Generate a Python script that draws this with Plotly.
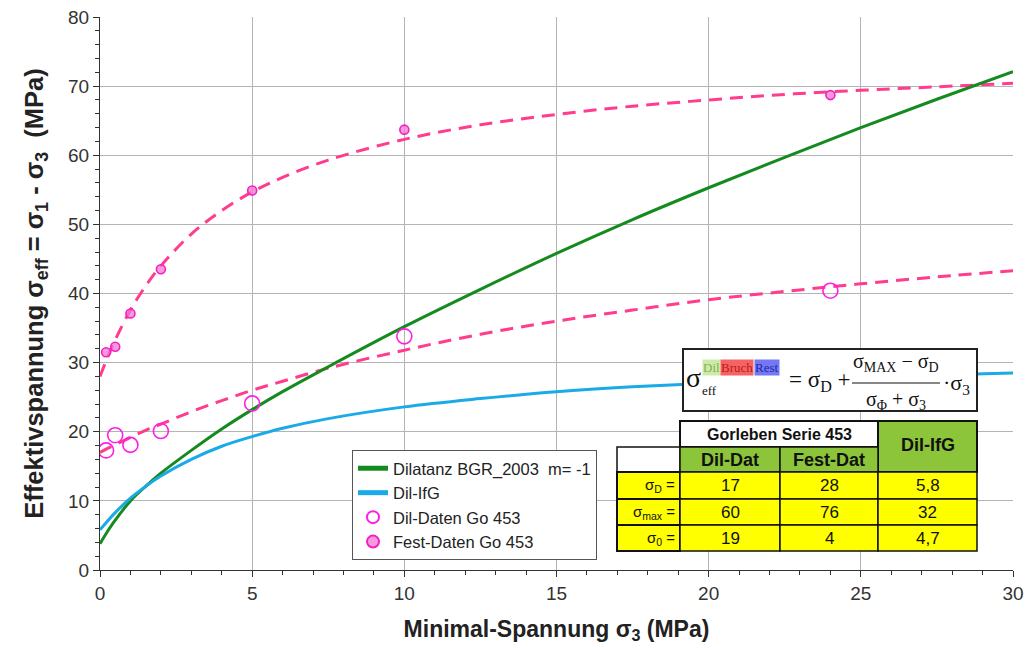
import plotly.graph_objects as go

# ---- measured strengths (Gorleben, series 453) ----
sigma3_pts = [0.2, 0.5, 1, 2, 5, 10, 24]
dil_daten = [17.3, 19.5, 18.1, 20.1, 24.1, 33.8, 40.4]
fest_daten = [31.5, 32.3, 37.1, 43.5, 54.9, 63.7, 68.7]

# ---- curves, sampled along sigma_3 ----
sigma3_curve = [0, 0.25, 0.5, 1, 1.5, 2, 3, 4, 5, 6, 7.5, 10, 12.5, 15,
                17.5, 20, 22.5, 25, 27.5, 30]
bgr_2003 = [3.8, 5.6, 7.2, 10.0, 12.1, 14.0, 17.3, 20.4, 23.2, 25.8, 29.4,
            35.2, 40.6, 45.8, 50.7, 55.3, 59.7, 64.0, 68.1, 72.1]
dil_ifg = [5.8, 7.1, 8.3, 10.4, 12.1, 13.6, 16.0, 17.9, 19.3, 20.5, 21.9,
           23.6, 24.8, 25.8, 26.5, 27.0, 27.5, 27.9, 28.2, 28.5]
dil_fit = [17.0, 17.6, 18.1, 19.2, 20.2, 21.1, 22.9, 24.5, 26.0, 27.3, 29.2,
           31.8, 34.1, 36.0, 37.6, 39.1, 40.3, 41.4, 42.4, 43.3]
fest_fit = [28.0, 30.8, 33.3, 37.6, 41.1, 44.0, 48.6, 52.0, 54.7, 56.8, 59.3,
            62.3, 64.4, 65.9, 67.1, 68.0, 68.8, 69.4, 69.9, 70.4]

# ---- parameter table ----
table_group = "Gorleben Serie 453"
table_cols = ["Dil-Dat", "Fest-Dat", "Dil-IfG"]
table_rows = ["σ<sub>D</sub> =", "σ<sub>max</sub> =", "σ<sub>0</sub> ="]
table_vals = [["17", "28", "5,8"],
              ["60", "76", "32"],
              ["19", "4", "4,7"]]

W, H = 1028, 648
PL, PR, PT, PB = 100, 1013, 17, 570


def fx(p):
    return (p - PL) / (PR - PL)


def fy(p):
    return (PB - p) / (PB - PT)


SANS = "Liberation Sans, Arial, sans-serif"
SERIF = "Liberation Serif, Times New Roman, serif"
PINK = "#FF3C8E"
MAGENTA = "#FF1EE6"

fig = go.Figure()

fig.add_trace(go.Scatter(x=sigma3_curve, y=fest_fit, mode="lines",
                         line=dict(color=PINK, width=3, dash="13px,8px",
                                   shape="spline"),
                         showlegend=False, hoverinfo="skip"))
fig.add_trace(go.Scatter(x=sigma3_curve, y=dil_fit, mode="lines",
                         line=dict(color=PINK, width=3, dash="13px,8px",
                                   shape="spline"),
                         showlegend=False, hoverinfo="skip"))
fig.add_trace(go.Scatter(x=sigma3_curve, y=bgr_2003, mode="lines",
                         name="Dilatanz BGR_2003  m= -1", legendgroup="a",
                         line=dict(color="#158A1E", width=3, shape="spline")))
fig.add_trace(go.Scatter(x=sigma3_curve, y=dil_ifg, mode="lines",
                         name="Dil-IfG", legendgroup="b",
                         line=dict(color="#1AAAE8", width=3, shape="spline")))
fig.add_trace(go.Scatter(x=sigma3_pts, y=dil_daten, mode="markers",
                         name="Dil-Daten Go 453", legendgroup="c",
                         marker=dict(symbol="circle-open", size=15,
                                     color=MAGENTA, line=dict(width=1.6))))
fig.add_trace(go.Scatter(x=sigma3_pts, y=fest_daten, mode="markers",
                         name="Fest-Daten Go 453", legendgroup="d",
                         marker=dict(symbol="circle", size=9,
                                     color="rgba(245,120,205,0.75)",
                                     line=dict(color="#F020C8", width=1.6))))

shapes = []
ann = []

# ---- formula box ----
shapes.append(dict(type="rect", xref="paper", yref="paper",
                   x0=fx(683), x1=fx(977), y0=fy(411), y1=fy(349),
                   line=dict(color="#222", width=2), fillcolor="white"))
shapes.append(dict(type="line", xref="paper", yref="paper",
                   x0=fx(852), x1=fx(940), y0=fy(383), y1=fy(383),
                   line=dict(color="#111", width=1.2)))


def txt(x, y, text, size, family=SERIF, color="#111", xanchor="center",
        bg=None, pad=1):
    d = dict(x=fx(x), y=fy(y), xref="paper", yref="paper", text=text,
             showarrow=False, xanchor=xanchor, yanchor="middle",
             font=dict(family=family, size=size, color=color))
    if bg:
        d.update(bgcolor=bg, borderpad=pad)
    ann.append(d)


txt(693, 377, "σ", 28)
txt(700, 391, "eff", 13, xanchor="left")
txt(702, 367, "Dil", 13, color="#86AE58", bg="#CDEBA8", pad=0, xanchor="left")
txt(720, 367, "Bruch", 13, color="#C01818", bg="#F46464", pad=0, xanchor="left")
txt(754, 367, "Rest", 13, color="#1E2AA8", bg="#7478F2", pad=0, xanchor="left")
txt(787, 381, "= σ<sub>D</sub> +", 23, xanchor="left")
txt(896, 362, "σ<sub>MAX</sub> − σ<sub>D</sub>", 20)
txt(896, 400, "σ<sub>Φ</sub> + σ<sub>3</sub>", 20)
txt(941, 384, "·σ<sub>3</sub>", 22, xanchor="left")

# ---- parameter table ----
YEL = "#FFFF00"
GRN = "#8CC43A"
cx = [617, 680, 780, 878, 977]
ry = [421, 447, 472, 499, 525, 551]


def cell(x0, x1, y0, y1, fill, lw=1.5):
    shapes.append(dict(type="rect", xref="paper", yref="paper",
                       x0=fx(x0), x1=fx(x1), y0=fy(y1), y1=fy(y0),
                       line=dict(color="#111", width=lw), fillcolor=fill))


cell(cx[1], cx[3], ry[0], ry[1], "white", 2)
cell(cx[3], cx[4], ry[0], ry[2], GRN, 2)
cell(cx[0], cx[1], ry[1], ry[2], "white", 1.5)
cell(cx[1], cx[2], ry[1], ry[2], GRN, 1.5)
cell(cx[2], cx[3], ry[1], ry[2], GRN, 1.5)
for r in range(3):
    cell(cx[0], cx[1], ry[2 + r], ry[3 + r], YEL, 2)
    for c in range(3):
        cell(cx[1 + c], cx[2 + c], ry[2 + r], ry[3 + r], YEL, 1.5)

txt((cx[1] + cx[3]) / 2, (ry[0] + ry[1]) / 2, "<b>" + table_group + "</b>",
    16, family=SANS)
txt((cx[3] + cx[4]) / 2, (ry[0] + ry[2]) / 2 - 2, "<b>" + table_cols[2] + "</b>",
    18, family=SANS)
txt((cx[1] + cx[2]) / 2, (ry[1] + ry[2]) / 2, "<b>" + table_cols[0] + "</b>",
    18, family=SANS)
txt((cx[2] + cx[3]) / 2, (ry[1] + ry[2]) / 2, "<b>" + table_cols[1] + "</b>",
    18, family=SANS)
for r in range(3):
    yc = (ry[2 + r] + ry[3 + r]) / 2
    txt(cx[1] - 3, yc, table_rows[r], 15, family=SANS, xanchor="right")
    for c in range(3):
        txt((cx[1 + c] + cx[2 + c]) / 2, yc, table_vals[r][c], 17, family=SANS)

axis_common = dict(
    showgrid=True, gridcolor="#B4B4B4", gridwidth=1,
    showline=True, linecolor="#333", linewidth=1.2,
    ticks="outside", ticklen=6, tickcolor="#333", tickwidth=1,
    tickfont=dict(family=SANS, size=19, color="#333"),
    zeroline=False, automargin=False,
)

fig.update_layout(
    width=W, height=H,
    margin=dict(l=PL, r=W - PR, t=PT, b=H - PB),
    paper_bgcolor="white", plot_bgcolor="white",
    xaxis=dict(range=[0, 30], dtick=5, tick0=0,
               minor=dict(dtick=1, ticks="outside", ticklen=4,
                          tickcolor="#333", showgrid=False),
               title=dict(text="<b>Minimal-Spannung σ<sub>3</sub> (MPa)</b>",
                          font=dict(family=SANS, size=23, color="#222"),
                          standoff=17),
               **axis_common),
    yaxis=dict(range=[0, 80], dtick=10, tick0=0,
               minor=dict(dtick=2, ticks="outside", ticklen=4,
                          tickcolor="#333", showgrid=False),
               title=dict(text="<b>Effektivspannung σ<sub>eff</sub> = σ<sub>1</sub> - σ<sub>3</sub>  (MPa)</b>",
                          font=dict(family=SANS, size=25.5, color="#222"),
                          standoff=17),
               **axis_common),
    legend=dict(x=fx(352), y=fy(450), xanchor="left", yanchor="top",
                bgcolor="white", bordercolor="#555", borderwidth=1,
                font=dict(family=SANS, size=16.5, color="#222"),
                tracegroupgap=0, entrywidth=218, entrywidthmode="pixels",
                itemsizing="constant"),
    shapes=shapes,
    annotations=ann,
    showlegend=True,
)

fig.write_html("out.html")
